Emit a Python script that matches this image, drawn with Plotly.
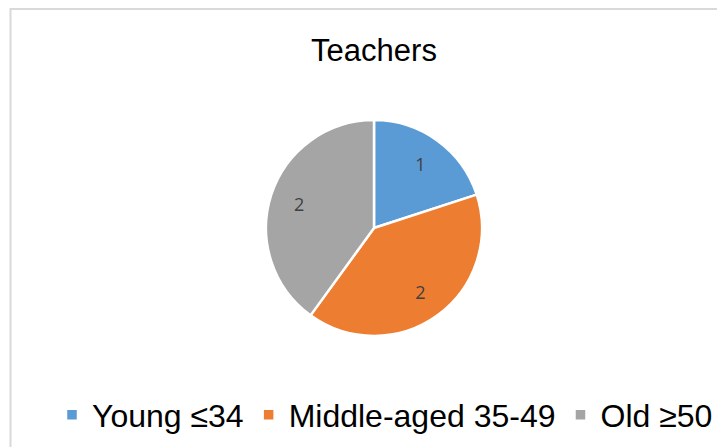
import plotly.graph_objects as go

categories = ["Young ≤34", "Middle-aged 35-49", "Old ≥50"]
values = [1, 2, 2]
colors = ["#5B9BD5", "#ED7D31", "#A5A5A5"]
title_text = "Teachers"

# figure sits at an 8px page offset inside the 725x447 window
W, H = 717, 439
cx, cy, R = 366, 220, 108
dom = dict(x=[(cx - R) / W, (cx + R) / W], y=[1 - (cy + R) / H, 1 - (cy - R) / H])

fig = go.Figure()
fig.add_trace(go.Pie(
    labels=categories,
    values=values,
    sort=False,
    direction="clockwise",
    rotation=0,
    marker=dict(colors=colors, line=dict(color="white", width=2.5)),
    textinfo="none",
    domain=dom,
    hoverinfo="label+value",
))
# transparent overlay used only to place the value labels further out
fig.add_trace(go.Pie(
    labels=categories,
    values=values,
    sort=False,
    direction="clockwise",
    rotation=0,
    hole=0.46,
    marker=dict(colors=["rgba(0,0,0,0)"] * len(values), line=dict(width=0)),
    textinfo="value",
    textposition="inside",
    insidetextorientation="horizontal",
    textfont=dict(family="Open Sans, Liberation Sans, Arial", size=18, color="#404040"),
    domain=dom,
    hoverinfo="skip",
    showlegend=False,
))

fig.update_layout(
    width=W, height=H,
    margin=dict(l=0, r=0, t=0, b=0),
    paper_bgcolor="white",
    plot_bgcolor="white",
    title=dict(text=title_text, x=cx / W, xanchor="center", y=1 - 42 / H, yanchor="middle",
               font=dict(family="Liberation Sans, Arial", size=31, color="#000000")),
    showlegend=True,
    legend=dict(orientation="h", x=377 / W, xanchor="center", y=1 - 407 / H, yanchor="middle",
                font=dict(family="Liberation Sans, Arial", size=32, color="#000000"),
                itemwidth=30, tracegroupgap=0),
    shapes=[dict(type="rect", xref="paper", yref="paper",
                 x0=2.5 / W, x1=1.1, y0=-0.1, y1=1 - 1 / H,
                 line=dict(color="#D9D9D9", width=2), layer="below")],
)

fig.write_html("out.html")
